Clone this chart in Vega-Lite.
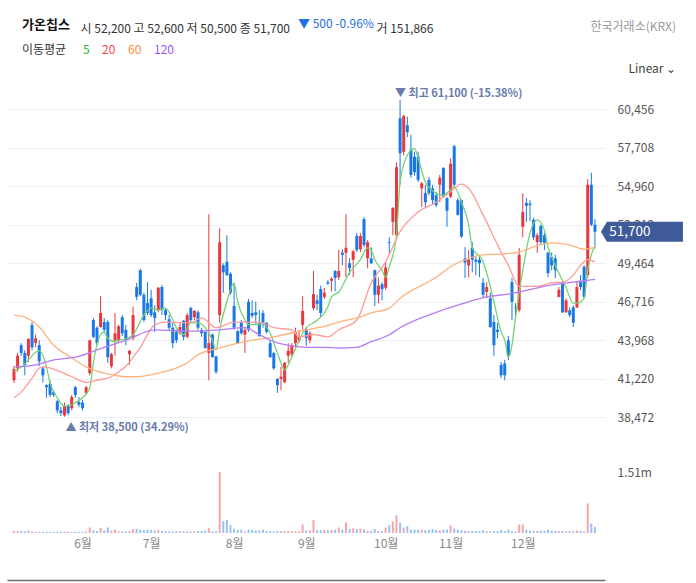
{
"$schema": "https://vega.github.io/schema/vega-lite/v6.json",
"width": 598, "height": 448,
"autosize": {"type": "none"},
"padding": {"left": 7, "top": 85, "right": 91, "bottom": 50},
"title": {"text": "가온칩스", "subtitle": "\u200b\u2003\u2003\u2003\u2003\u2003\u2003\u2003\u2003\u2003\u2003\u2003\u2003\u2003\u2003\u2003\u2003\u2003\u2003\u2003\u2003\u2003\u2003\u2003▼ 500 -0.96%", "subtitlePadding": -13, "subtitleFontSize": 12, "subtitleColor": "#1f6fe5", "anchor": "start", "frame": "group", "dx": 15, "offset": -13, "fontSize": 13, "fontWeight": "bold", "color": "#111"},
"config": {"font": "Noto Sans CJK KR", "view": {"stroke": null}},
"datasets": {
"candles": [
{"i":0,"open":41100,"high":42100,"low":40900,"close":41900,"volume":50000},
{"i":1,"open":41950,"high":43050,"low":41700,"close":42850,"volume":45000},
{"i":2,"open":43600,"high":43750,"low":42850,"close":43050,"volume":48000},
{"i":3,"open":43050,"high":43250,"low":41450,"close":42200,"volume":40000},
{"i":4,"open":42850,"high":44100,"low":42400,"close":44050,"volume":60000},
{"i":5,"open":45050,"high":45250,"low":43250,"close":43450,"volume":35000},
{"i":6,"open":43750,"high":44350,"low":43450,"close":44100,"volume":30000},
{"i":7,"open":43600,"high":43950,"low":42100,"close":42450,"volume":32000},
{"i":8,"open":41950,"high":42100,"low":40950,"close":41450,"volume":30000},
{"i":9,"open":40750,"high":40800,"low":39850,"close":40600,"volume":28000},
{"i":10,"open":40850,"high":41100,"low":39900,"close":40050,"volume":30000},
{"i":11,"open":40250,"high":40400,"low":39900,"close":40050,"volume":25000},
{"i":12,"open":39600,"high":39700,"low":38750,"close":38950,"volume":30000},
{"i":13,"open":38950,"high":39200,"low":38550,"close":38750,"volume":28000},
{"i":14,"open":38600,"high":39500,"low":38500,"close":39250,"volume":35000},
{"i":15,"open":39250,"high":39400,"low":38600,"close":38750,"volume":30000},
{"i":16,"open":39100,"high":40050,"low":38950,"close":39900,"volume":25000},
{"i":17,"open":40600,"high":40700,"low":39850,"close":40050,"volume":30000},
{"i":18,"open":39550,"high":39900,"low":39200,"close":39350,"volume":28000},
{"i":19,"open":39500,"high":39700,"low":38950,"close":39100,"volume":30000},
{"i":20,"open":40200,"high":40700,"low":40050,"close":40600,"volume":35000},
{"i":21,"open":41600,"high":44000,"low":41450,"close":43950,"volume":136000},
{"i":22,"open":45400,"high":45550,"low":44100,"close":44200,"volume":68000},
{"i":23,"open":44850,"high":44950,"low":43600,"close":43750,"volume":50000},
{"i":24,"open":44900,"high":47100,"low":44850,"close":45900,"volume":127000},
{"i":25,"open":45250,"high":45550,"low":44450,"close":44700,"volume":68000},
{"i":26,"open":45250,"high":45400,"low":42350,"close":42750,"volume":136000},
{"i":27,"open":42100,"high":43050,"low":41950,"close":42950,"volume":60000},
{"i":28,"open":43950,"high":45900,"low":42850,"close":44450,"volume":85000},
{"i":29,"open":43950,"high":45050,"low":43750,"close":44950,"volume":45000},
{"i":30,"open":45600,"high":45750,"low":44250,"close":44450,"volume":40000},
{"i":31,"open":44700,"high":45050,"low":43600,"close":43950,"volume":40000},
{"i":32,"open":42950,"high":43250,"low":42200,"close":43200,"volume":45000},
{"i":33,"open":44100,"high":46350,"low":43950,"close":45750,"volume":100000},
{"i":34,"open":47750,"high":48050,"low":46800,"close":47050,"volume":105000},
{"i":35,"open":48950,"high":49050,"low":47100,"close":47200,"volume":80000},
{"i":36,"open":47200,"high":47350,"low":45250,"close":45400,"volume":70000},
{"i":37,"open":46600,"high":48100,"low":45750,"close":45900,"volume":85000},
{"i":38,"open":46950,"high":47550,"low":45600,"close":45750,"volume":75000},
{"i":39,"open":45950,"high":46450,"low":44550,"close":45550,"volume":60000},
{"i":40,"open":46100,"high":47750,"low":45950,"close":47700,"volume":85000},
{"i":41,"open":47750,"high":47900,"low":45750,"close":46100,"volume":60000},
{"i":42,"open":46100,"high":46250,"low":45400,"close":45750,"volume":45000},
{"i":43,"open":45450,"high":45750,"low":44700,"close":44850,"volume":40000},
{"i":44,"open":44850,"high":45200,"low":43400,"close":43750,"volume":35000},
{"i":45,"open":44550,"high":44700,"low":43750,"close":43950,"volume":50000},
{"i":46,"open":44450,"high":45250,"low":44350,"close":44900,"volume":40000},
{"i":47,"open":45350,"high":45400,"low":43950,"close":44200,"volume":45000},
{"i":48,"open":44200,"high":45900,"low":44100,"close":45750,"volume":40000},
{"i":49,"open":46250,"high":46350,"low":45200,"close":45400,"volume":35000},
{"i":50,"open":45600,"high":46100,"low":45400,"close":46050,"volume":40000},
{"i":51,"open":45950,"high":46100,"low":44700,"close":44850,"volume":50000},
{"i":52,"open":44700,"high":44850,"low":44200,"close":44450,"volume":45000},
{"i":53,"open":44550,"high":44600,"low":43350,"close":43400,"volume":60000},
{"i":54,"open":43050,"high":52950,"low":41100,"close":43750,"volume":118000},
{"i":55,"open":44350,"high":44450,"low":42700,"close":42750,"volume":40000},
{"i":56,"open":42800,"high":42850,"low":41550,"close":41700,"volume":45000},
{"i":57,"open":45750,"high":51950,"low":45200,"close":50950,"volume":1510000},
{"i":58,"open":49300,"high":49450,"low":47350,"close":48800,"volume":297000},
{"i":59,"open":49550,"high":51450,"low":48550,"close":48600,"volume":322000},
{"i":60,"open":48700,"high":48800,"low":47200,"close":47350,"volume":195000},
{"i":61,"open":46400,"high":48050,"low":44700,"close":44850,"volume":110000},
{"i":62,"open":44600,"high":44700,"low":43700,"close":43750,"volume":70000},
{"i":63,"open":45250,"high":45400,"low":44350,"close":44450,"volume":85000},
{"i":64,"open":44350,"high":44850,"low":43050,"close":44700,"volume":40000},
{"i":65,"open":46700,"high":46900,"low":44550,"close":44700,"volume":85000},
{"i":66,"open":45900,"high":46800,"low":45550,"close":45700,"volume":80000},
{"i":67,"open":45950,"high":46700,"low":45050,"close":45750,"volume":60000},
{"i":68,"open":45200,"high":46100,"low":44200,"close":44250,"volume":65000},
{"i":69,"open":45900,"high":46100,"low":44850,"close":45200,"volume":85000},
{"i":70,"open":45200,"high":45250,"low":44450,"close":44550,"volume":50000},
{"i":71,"open":43750,"high":43950,"low":42700,"close":42750,"volume":45000},
{"i":72,"open":43050,"high":43100,"low":41850,"close":41950,"volume":40000},
{"i":73,"open":41200,"high":41250,"low":40200,"close":40750,"volume":55000},
{"i":74,"open":41200,"high":42050,"low":40400,"close":41350,"volume":45000},
{"i":75,"open":40950,"high":42400,"low":40900,"close":42350,"volume":40000},
{"i":76,"open":42850,"high":43750,"low":42350,"close":43200,"volume":50000},
{"i":77,"open":42950,"high":43750,"low":42750,"close":43600,"volume":45000},
{"i":78,"open":43750,"high":44850,"low":43450,"close":44550,"volume":40000},
{"i":79,"open":43950,"high":44700,"low":43750,"close":44200,"volume":40000},
{"i":80,"open":45050,"high":47100,"low":44700,"close":46050,"volume":212000},
{"i":81,"open":44700,"high":44900,"low":43550,"close":44100,"volume":68000},
{"i":82,"open":43950,"high":44600,"low":43750,"close":44450,"volume":60000},
{"i":83,"open":46250,"high":48900,"low":46100,"close":47250,"volume":322000},
{"i":84,"open":46800,"high":47200,"low":46100,"close":46550,"volume":68000},
{"i":85,"open":47600,"high":47850,"low":45600,"close":45900,"volume":70000},
{"i":86,"open":47050,"high":47700,"low":46900,"close":47350,"volume":75000},
{"i":87,"open":48100,"high":48250,"low":47900,"close":48000,"volume":70000},
{"i":88,"open":48200,"high":48450,"low":47450,"close":48350,"volume":80000},
{"i":89,"open":48900,"high":48950,"low":47450,"close":48400,"volume":85000},
{"i":90,"open":48450,"high":50400,"low":48250,"close":48900,"volume":136000},
{"i":91,"open":50200,"high":50450,"low":49300,"close":50050,"volume":85000},
{"i":92,"open":50200,"high":52950,"low":48450,"close":50550,"volume":263000},
{"i":93,"open":49450,"high":49800,"low":48600,"close":49100,"volume":100000},
{"i":94,"open":49700,"high":50400,"low":48450,"close":50300,"volume":118000},
{"i":95,"open":51400,"high":51600,"low":50250,"close":50400,"volume":100000},
{"i":96,"open":50450,"high":51600,"low":50250,"close":51400,"volume":110000},
{"i":97,"open":52600,"high":52750,"low":50600,"close":50750,"volume":85000},
{"i":98,"open":49800,"high":51100,"low":49100,"close":50950,"volume":50000},
{"i":99,"open":49800,"high":50600,"low":49400,"close":49450,"volume":55000},
{"i":100,"open":48950,"high":49000,"low":46400,"close":47200,"volume":95000},
{"i":101,"open":47200,"high":48450,"low":46600,"close":47850,"volume":50000},
{"i":102,"open":47950,"high":48100,"low":46800,"close":47600,"volume":45000},
{"i":103,"open":47700,"high":49550,"low":47550,"close":49150,"volume":136000},
{"i":104,"open":50950,"high":51300,"low":50050,"close":50900,"volume":195000},
{"i":105,"open":52400,"high":53450,"low":51450,"close":53400,"volume":280000},
{"i":106,"open":51450,"high":56650,"low":51400,"close":56300,"volume":441000},
{"i":107,"open":59800,"high":61100,"low":55050,"close":57300,"volume":254000},
{"i":108,"open":57400,"high":60050,"low":57150,"close":59950,"volume":136000},
{"i":109,"open":59300,"high":59900,"low":58450,"close":58800,"volume":170000},
{"i":110,"open":57550,"high":58600,"low":55550,"close":55750,"volume":85000},
{"i":111,"open":57050,"high":57400,"low":55700,"close":55950,"volume":80000},
{"i":112,"open":57050,"high":57400,"low":55250,"close":55400,"volume":75000},
{"i":113,"open":54800,"high":55250,"low":53450,"close":55150,"volume":85000},
{"i":114,"open":54450,"high":55050,"low":53450,"close":53800,"volume":70000},
{"i":115,"open":55400,"high":55600,"low":54300,"close":54450,"volume":80000},
{"i":116,"open":54800,"high":55050,"low":53600,"close":53950,"volume":100000},
{"i":117,"open":54300,"high":54550,"low":53450,"close":53600,"volume":75000},
{"i":118,"open":55050,"high":55750,"low":53800,"close":55550,"volume":70000},
{"i":119,"open":56250,"high":56300,"low":54100,"close":54200,"volume":85000},
{"i":120,"open":54100,"high":54150,"low":52050,"close":53200,"volume":85000},
{"i":121,"open":54200,"high":56950,"low":54100,"close":56550,"volume":187000},
{"i":122,"open":57800,"high":57900,"low":54900,"close":55050,"volume":110000},
{"i":123,"open":53950,"high":54100,"low":52850,"close":52900,"volume":85000},
{"i":124,"open":53950,"high":54000,"low":51250,"close":51350,"volume":68000},
{"i":125,"open":49800,"high":50600,"low":48400,"close":49500,"volume":55000},
{"i":126,"open":49300,"high":50400,"low":48450,"close":49700,"volume":45000},
{"i":127,"open":50550,"high":50950,"low":48800,"close":49700,"volume":50000},
{"i":128,"open":49700,"high":49900,"low":48600,"close":49550,"volume":45000},
{"i":129,"open":49700,"high":50050,"low":48450,"close":49450,"volume":50000},
{"i":130,"open":48050,"high":48400,"low":46950,"close":47200,"volume":68000},
{"i":131,"open":47400,"high":48100,"low":46950,"close":47750,"volume":45000},
{"i":132,"open":46950,"high":47350,"low":44850,"close":44900,"volume":40000},
{"i":133,"open":45250,"high":45750,"low":42850,"close":43600,"volume":50000},
{"i":134,"open":44700,"high":45200,"low":44100,"close":44550,"volume":45000},
{"i":135,"open":42200,"high":42400,"low":41250,"close":41450,"volume":68000},
{"i":136,"open":42300,"high":42550,"low":41100,"close":41450,"volume":50000},
{"i":137,"open":43950,"high":44250,"low":42550,"close":42850,"volume":85000},
{"i":138,"open":48100,"high":48400,"low":45400,"close":46700,"volume":45000},
{"i":139,"open":46300,"high":46600,"low":45550,"close":46250,"volume":40000},
{"i":140,"open":46100,"high":50550,"low":45950,"close":50050,"volume":212000},
{"i":141,"open":52050,"high":54450,"low":51300,"close":53100,"volume":212000},
{"i":142,"open":53750,"high":54100,"low":52400,"close":53550,"volume":85000},
{"i":143,"open":53700,"high":53950,"low":52450,"close":53600,"volume":60000},
{"i":144,"open":52550,"high":52700,"low":51100,"close":51300,"volume":55000},
{"i":145,"open":50950,"high":51600,"low":50200,"close":51450,"volume":50000},
{"i":146,"open":52100,"high":52200,"low":50750,"close":50950,"volume":60000},
{"i":147,"open":51450,"high":51600,"low":50400,"close":50900,"volume":55000},
{"i":148,"open":50200,"high":50250,"low":48450,"close":48750,"volume":85000},
{"i":149,"open":49900,"high":50200,"low":48950,"close":49300,"volume":60000},
{"i":150,"open":49800,"high":50050,"low":48400,"close":48950,"volume":50000},
{"i":151,"open":47050,"high":47750,"low":47000,"close":47550,"volume":45000},
{"i":152,"open":48050,"high":48100,"low":45900,"close":45950,"volume":50000},
{"i":153,"open":45950,"high":46950,"low":45900,"close":46800,"volume":40000},
{"i":154,"open":46100,"high":46300,"low":45600,"close":45750,"volume":45000},
{"i":155,"open":46300,"high":46450,"low":44900,"close":45200,"volume":40000},
{"i":156,"open":46300,"high":48100,"low":46250,"close":47750,"volume":60000},
{"i":157,"open":48100,"high":48600,"low":47550,"close":47750,"volume":55000},
{"i":158,"open":49200,"high":49300,"low":46950,"close":47050,"volume":40000},
{"i":159,"open":48600,"high":55450,"low":48400,"close":55050,"volume":730000},
{"i":160,"open":55050,"high":55900,"low":52100,"close":52200,"volume":237000},
{"i":161,"open":52200,"high":52600,"low":50500,"close":51700,"volume":151866}
],
"ma": [
{"period":"5","i":0,"value":41750},{"period":"5","i":2,"value":42050},{"period":"5","i":4,"value":42550},{"period":"5","i":6,"value":43100},{"period":"5","i":7,"value":43200},{"period":"5","i":8,"value":42900},{"period":"5","i":9,"value":42050},{"period":"5","i":10,"value":40900},{"period":"5","i":12,"value":39850},{"period":"5","i":14,"value":39250},{"period":"5","i":16,"value":39350},{"period":"5","i":17,"value":39500},{"period":"5","i":19,"value":39850},{"period":"5","i":21,"value":40550},{"period":"5","i":22,"value":42350},{"period":"5","i":24,"value":44350},{"period":"5","i":25,"value":44550},{"period":"5","i":26,"value":44100},{"period":"5","i":28,"value":43850},{"period":"5","i":29,"value":43950},{"period":"5","i":31,"value":44050},{"period":"5","i":33,"value":44350},{"period":"5","i":36,"value":45750},{"period":"5","i":38,"value":46250},{"period":"5","i":40,"value":46100},{"period":"5","i":42,"value":46250},{"period":"5","i":44,"value":45400},{"period":"5","i":45,"value":44850},{"period":"5","i":47,"value":44350},{"period":"5","i":49,"value":45200},{"period":"5","i":51,"value":45200},{"period":"5","i":53,"value":44850},{"period":"5","i":55,"value":43950},{"period":"5","i":56,"value":43250},{"period":"5","i":57,"value":44700},{"period":"5","i":59,"value":46700},{"period":"5","i":61,"value":48050},{"period":"5","i":62,"value":46700},{"period":"5","i":64,"value":45400},{"period":"5","i":65,"value":45050},{"period":"5","i":68,"value":45100},{"period":"5","i":69,"value":45100},{"period":"5","i":71,"value":44450},{"period":"5","i":73,"value":43050},{"period":"5","i":75,"value":41850},{"period":"5","i":77,"value":42750},{"period":"5","i":79,"value":43950},{"period":"5","i":81,"value":44850},{"period":"5","i":83,"value":45200},{"period":"5","i":85,"value":45600},{"period":"5","i":87,"value":46350},{"period":"5","i":88,"value":47050},{"period":"5","i":90,"value":47400},{"period":"5","i":93,"value":48800},{"period":"5","i":96,"value":49700},{"period":"5","i":98,"value":50550},{"period":"5","i":99,"value":50400},{"period":"5","i":100,"value":49700},{"period":"5","i":102,"value":48950},{"period":"5","i":103,"value":48450},{"period":"5","i":104,"value":49200},{"period":"5","i":106,"value":51450},{"period":"5","i":107,"value":55250},{"period":"5","i":109,"value":57150},{"period":"5","i":111,"value":57650},{"period":"5","i":112,"value":56950},{"period":"5","i":114,"value":55250},{"period":"5","i":117,"value":54450},{"period":"5","i":119,"value":54300},{"period":"5","i":121,"value":54700},{"period":"5","i":122,"value":54900},{"period":"5","i":124,"value":53800},{"period":"5","i":126,"value":52200},{"period":"5","i":127,"value":50550},{"period":"5","i":130,"value":49550},{"period":"5","i":131,"value":48750},{"period":"5","i":133,"value":46700},{"period":"5","i":135,"value":44550},{"period":"5","i":136,"value":43950},{"period":"5","i":137,"value":42750},{"period":"5","i":138,"value":43600},{"period":"5","i":139,"value":45600},{"period":"5","i":141,"value":48950},{"period":"5","i":143,"value":51600},{"period":"5","i":145,"value":52550},{"period":"5","i":147,"value":51800},{"period":"5","i":148,"value":50600},{"period":"5","i":149,"value":49900},{"period":"5","i":151,"value":48750},{"period":"5","i":153,"value":47700},{"period":"5","i":155,"value":46600},{"period":"5","i":156,"value":46600},{"period":"5","i":158,"value":46950},{"period":"5","i":159,"value":48950},{"period":"5","i":161,"value":50700},
{"period":"20","i":0,"value":39850},{"period":"20","i":2,"value":40250},{"period":"20","i":5,"value":41250},{"period":"20","i":7,"value":41950},{"period":"20","i":8,"value":42050},{"period":"20","i":11,"value":41900},{"period":"20","i":16,"value":41350},{"period":"20","i":20,"value":40950},{"period":"20","i":23,"value":41100},{"period":"20","i":27,"value":41350},{"period":"20","i":29,"value":41700},{"period":"20","i":31,"value":42100},{"period":"20","i":35,"value":43450},{"period":"20","i":39,"value":45050},{"period":"20","i":42,"value":45250},{"period":"20","i":49,"value":45200},{"period":"20","i":52,"value":45550},{"period":"20","i":56,"value":44850},{"period":"20","i":61,"value":45250},{"period":"20","i":68,"value":45250},{"period":"20","i":72,"value":44850},{"period":"20","i":77,"value":44700},{"period":"20","i":79,"value":44200},{"period":"20","i":83,"value":44350},{"period":"20","i":87,"value":44200},{"period":"20","i":90,"value":44700},{"period":"20","i":95,"value":45400},{"period":"20","i":99,"value":48050},{"period":"20","i":103,"value":49550},{"period":"20","i":107,"value":51700},{"period":"20","i":112,"value":53100},{"period":"20","i":117,"value":53800},{"period":"20","i":121,"value":54550},{"period":"20","i":124,"value":55100},{"period":"20","i":126,"value":54800},{"period":"20","i":130,"value":52900},{"period":"20","i":135,"value":50250},{"period":"20","i":137,"value":49300},{"period":"20","i":140,"value":47800},{"period":"20","i":145,"value":47800},{"period":"20","i":149,"value":48050},{"period":"20","i":152,"value":48100},{"period":"20","i":155,"value":48600},{"period":"20","i":157,"value":49300},{"period":"20","i":159,"value":49700},{"period":"20","i":161,"value":49550},
{"period":"60","i":0,"value":45750},{"period":"60","i":3,"value":45600},{"period":"60","i":7,"value":44900},{"period":"60","i":11,"value":43600},{"period":"60","i":16,"value":42700},{"period":"60","i":20,"value":42050},{"period":"60","i":25,"value":41600},{"period":"60","i":28,"value":41450},{"period":"60","i":31,"value":41350},{"period":"60","i":34,"value":41350},{"period":"60","i":39,"value":41550},{"period":"60","i":47,"value":42200},{"period":"60","i":52,"value":43050},{"period":"60","i":57,"value":43400},{"period":"60","i":64,"value":43850},{"period":"60","i":72,"value":44200},{"period":"60","i":81,"value":44700},{"period":"60","i":86,"value":44950},{"period":"60","i":90,"value":45250},{"period":"60","i":95,"value":45550},{"period":"60","i":99,"value":45900},{"period":"60","i":104,"value":46250},{"period":"60","i":107,"value":46950},{"period":"60","i":117,"value":48450},{"period":"60","i":121,"value":49200},{"period":"60","i":126,"value":49800},{"period":"60","i":130,"value":50050},{"period":"60","i":135,"value":50100},{"period":"60","i":140,"value":50250},{"period":"60","i":145,"value":50700},{"period":"60","i":149,"value":50900},{"period":"60","i":154,"value":50750},{"period":"60","i":158,"value":50450},{"period":"60","i":161,"value":50600},
{"period":"120","i":0,"value":42050},{"period":"120","i":6,"value":42200},{"period":"120","i":11,"value":42550},{"period":"120","i":17,"value":42750},{"period":"120","i":25,"value":43450},{"period":"120","i":31,"value":43950},{"period":"120","i":39,"value":44700},{"period":"120","i":49,"value":44600},{"period":"120","i":57,"value":44700},{"period":"120","i":64,"value":44850},{"period":"120","i":68,"value":44350},{"period":"120","i":72,"value":43850},{"period":"120","i":77,"value":43550},{"period":"120","i":81,"value":43450},{"period":"120","i":86,"value":43450},{"period":"120","i":90,"value":43400},{"period":"120","i":95,"value":43450},{"period":"120","i":99,"value":43850},{"period":"120","i":104,"value":44350},{"period":"120","i":107,"value":44850},{"period":"120","i":117,"value":45950},{"period":"120","i":126,"value":46700},{"period":"120","i":131,"value":47050},{"period":"120","i":137,"value":47250},{"period":"120","i":140,"value":47400},{"period":"120","i":149,"value":47900},{"period":"120","i":158,"value":48200},{"period":"120","i":161,"value":48300}
]
},
"encoding": {
"x": {"field": "i", "type": "quantitative", "title": "시 52,200  고 52,600  저 50,500  종 51,700 \u2003\u2003\u2003\u2003\u2003\u2003\u2002\u2005 거 151,866",
 "scale": {"domain": [-0.55, 162.4], "nice": false, "zero": false},
 "axis": {"orient": "bottom", "values": [19, 38, 61, 81, 103, 121, 141],
  "labelExpr": "datum.value==19?'6월':datum.value==38?'7월':datum.value==61?'8월':datum.value==81?'9월':datum.value==103?'10월':datum.value==121?'11월':'12월'",
  "offset": 47, "labelPadding": -42, "labelBaseline": "top", "labelFlush": false, "ticks": false, "grid": false,
  "domain": true, "domainColor": "#6b6f74", "domainWidth": 1.5, "labelColor": "#888", "labelFontSize": 12,
  "titleX": 73, "titleY": -552, "titleAlign": "left", "titleAnchor": "start", "titleBaseline": "middle", "titleAngle": 0,
  "titleFontWeight": "normal", "titleColor": "#333", "titleFontSize": 12}}
},
"layer": [
{"layer": [
 {"data": {"values": [{}]}, "mark": {"type": "rect", "color": "#f6f7fb"},
  "encoding": {"x": {"datum": -0.55, "title": "시 52,200  고 52,600  저 50,500  종 51,700 \u2003\u2003\u2003\u2003\u2003\u2003\u2002\u2005 거 151,866"}, "x2": {"datum": 162.4},
   "y": {"datum": 0, "title": "한국거래소(KRX)"}, "y2": {"datum": 2230000}}},
 {"data": {"name": "candles"}, "mark": {"type": "bar", "size": 2, "opacity": 0.45},
  "encoding": {"y": {"field": "volume", "type": "quantitative", "title": "한국거래소(KRX)",
    "scale": {"domain": [0, 11090000], "nice": false, "zero": true},
    "axis": {"orient": "right", "values": [1510000], "labelExpr": "'1.51m'", "grid": false, "domain": false, "ticks": false,
     "labelPadding": 12, "labelColor": "#555", "labelFontSize": 12,
     "titleX": -15, "titleY": -59, "titleAngle": 0, "titleAlign": "left", "titleBaseline": "middle",
     "titleFontWeight": "normal", "titleColor": "#999", "titleFontSize": 12}},
   "color": {"condition": {"test": "datum.close >= datum.open", "value": "#e8383d"}, "value": "#1a78e6"}}},
 {"data": {"values": [{"label": "거래량", "volume": 151866}]},
  "mark": {"type": "text", "align": "left", "baseline": "middle", "fontSize": 12, "color": "#333"},
  "encoding": {"x": {"datum": 3.54, "title": "시 52,200  고 52,600  저 50,500  종 51,700 \u2003\u2003\u2003\u2003\u2003\u2003\u2002\u2005 거 151,866"}, "y": {"datum": 1880000, "title": "한국거래소(KRX)"}, "text": {"field": "label"}}},
 {"data": {"values": [{"label": "거래량", "volume": 151866}]},
  "mark": {"type": "text", "align": "left", "baseline": "middle", "fontSize": 12, "fontWeight": "bold", "color": "#111", "dx": 38},
  "encoding": {"x": {"datum": 3.54, "title": "시 52,200  고 52,600  저 50,500  종 51,700 \u2003\u2003\u2003\u2003\u2003\u2003\u2002\u2005 거 151,866"}, "y": {"datum": 1880000, "title": "한국거래소(KRX)"}, "text": {"field": "volume", "type": "quantitative", "format": ","}}}
]},
{"layer": [
 {"data": {"name": "candles"}, "mark": {"type": "rule", "strokeWidth": 1},
  "encoding": {"y": {"field": "low", "type": "quantitative", "title": "Linear ⌄",
    "scale": {"domain": [30199, 62169], "nice": false, "zero": false},
    "axis": {"orient": "right", "values": [38472, 41220, 43968, 46716, 49464, 52212, 54960, 57708, 60456], "format": ",d",
     "grid": true, "gridColor": "#edf0f4", "domain": false, "ticks": false, "labelPadding": 12, "labelColor": "#555", "labelFontSize": 12,
     "titleX": 23, "titleY": -17, "titleAngle": 0, "titleAlign": "left", "titleBaseline": "middle",
     "titleFontWeight": "normal", "titleColor": "#444", "titleFontSize": 12}},
   "y2": {"field": "high"},
   "color": {"condition": {"test": "datum.close >= datum.open", "value": "#e8383d"}, "value": "#1a78e6"}}},
 {"data": {"name": "candles"}, "mark": {"type": "bar", "size": 3},
  "encoding": {"y": {"field": "open", "type": "quantitative", "title": "Linear ⌄"}, "y2": {"field": "close"},
   "color": {"condition": {"test": "datum.close >= datum.open", "value": "#e8383d"}, "value": "#1a78e6"}}},
 {"data": {"name": "ma"}, "mark": {"type": "line", "interpolate": "monotone", "strokeWidth": 1.3},
  "encoding": {"y": {"field": "value", "type": "quantitative", "title": "Linear ⌄"},
   "color": {"field": "period", "type": "nominal",
    "scale": {"domain": ["5", "20", "60", "120"], "range": ["#74d474", "#ff9a9a", "#ffb27a", "#b67cf5"]},
    "legend": {"orient": "none", "legendX": 15, "legendY": -41, "direction": "horizontal", "title": "이동평균", "titleOrient": "left",
     "titleFontSize": 12, "titleFontWeight": "normal", "titleColor": "#333", "titlePadding": 4, "labelFontSize": 12,
     "symbolType": "circle", "symbolSize": 1, "symbolOpacity": 0, "symbolStrokeWidth": 0, "labelOffset": 0, "columnPadding": -14,
     "encode": {"labels": {"update": {"fill": {"signal": "datum.value=='5'?'#1fb51f':datum.value=='20'?'#ff3b3b':datum.value=='60'?'#ff8a3d':'#9d4ff5'"}}},
                "symbols": {"update": {"size": {"value": 1}, "strokeWidth": {"value": 0}, "opacity": {"value": 0}}}}}}}},
 {"data": {"values": [{"i": 107, "price": 61100, "label": "▼ 최고 61,100 (-15.38%)"}]},
  "mark": {"type": "text", "align": "left", "baseline": "middle", "dx": -5, "dy": -6, "fontSize": 11, "fontWeight": "bold", "color": "#6a7aad"},
  "encoding": {"y": {"field": "price", "type": "quantitative", "title": "Linear ⌄"}, "text": {"field": "label"}}},
 {"data": {"values": [{"i": 14, "price": 38500, "label": "▲ 최저 38,500 (34.29%)"}]},
  "mark": {"type": "text", "align": "left", "baseline": "middle", "dx": 1, "dy": 11, "fontSize": 11, "fontWeight": "bold", "color": "#6a7aad"},
  "encoding": {"y": {"field": "price", "type": "quantitative", "title": "Linear ⌄"}, "text": {"field": "label"}}},
 {"data": {"name": "candles"}, "transform": [{"filter": "datum.i == 161"}],
  "mark": {"type": "point", "shape": "M0.136,0L0.273,-0.227L2,-0.227L2,0.227L0.273,0.227Z", "size": 7744, "filled": true, "opacity": 1, "color": "#3f5a99", "strokeWidth": 0},
  "encoding": {"y": {"field": "close", "type": "quantitative", "title": "Linear ⌄"}}},
 {"data": {"name": "candles"}, "transform": [{"filter": "datum.i == 161"}],
  "mark": {"type": "text", "align": "center", "baseline": "middle", "dx": 35, "fontSize": 13.5, "color": "#ffffff"},
  "encoding": {"y": {"field": "close", "type": "quantitative", "title": "Linear ⌄"}, "text": {"field": "close", "type": "quantitative", "format": ","}}}
]}
],
"resolve": {"scale": {"y": "independent"}, "axis": {"y": "independent"}}
}
